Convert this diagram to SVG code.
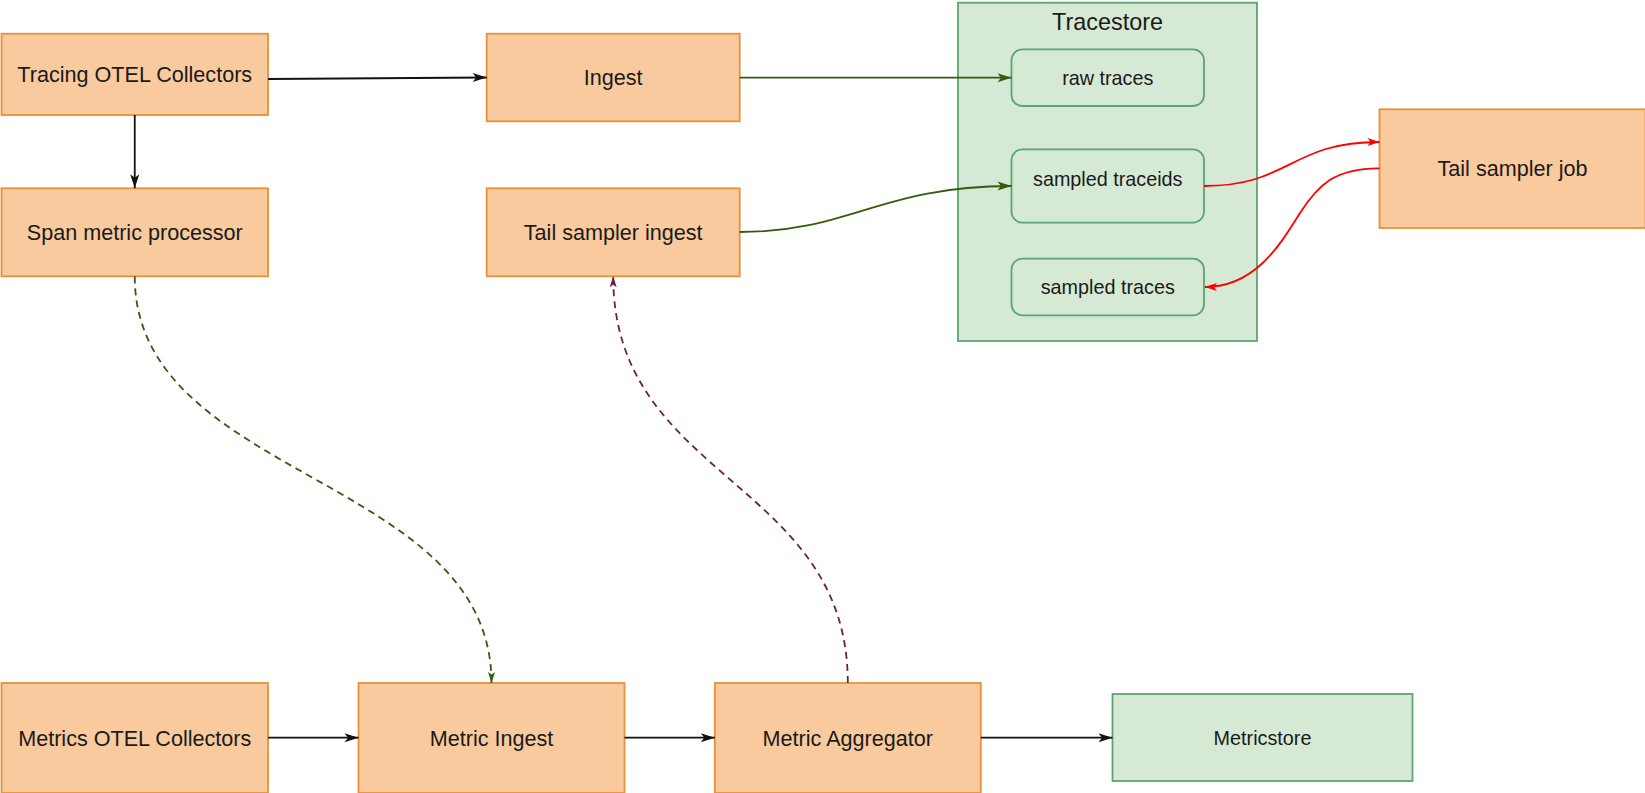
<svg xmlns="http://www.w3.org/2000/svg" width="1645" height="793" viewBox="0 0 1645 793">
<style>
.o{fill:#F8CA9D;stroke:#E8913A;stroke-width:1.8}
.g{fill:#D6E9D4;stroke:#5BA575;stroke-width:1.8}
.t{font-family:"Liberation Sans",Arial,sans-serif;fill:#1a1a1a;text-anchor:middle}
.to{font-size:21.6px}
.tg{font-size:19.8px}
.e{fill:none;stroke-width:1.8}
</style>
<defs>
<marker id="ab" markerUnits="userSpaceOnUse" markerWidth="14" markerHeight="9" refX="14" refY="4.5" orient="auto" overflow="visible"><path d="M0,0 L14,4.5 L0,9 L3.5,4.5 z" fill="#111"/></marker>
<marker id="ag" markerUnits="userSpaceOnUse" markerWidth="14" markerHeight="9" refX="14" refY="4.5" orient="auto" overflow="visible"><path d="M0,0 L14,4.5 L0,9 L3.5,4.5 z" fill="#335C0F"/></marker>
<marker id="ar" markerUnits="userSpaceOnUse" markerWidth="12" markerHeight="8" refX="12" refY="4" orient="auto" overflow="visible"><path d="M0,0 L12,4 L0,8 L3,4 z" fill="#FF0000"/></marker>
<marker id="adg" markerUnits="userSpaceOnUse" markerWidth="11" markerHeight="7" refX="11" refY="3.5" orient="auto" overflow="visible"><path d="M0,0 L11,3.5 L0,7 L2.5,3.5 z" fill="#335C0F"/></marker>
<marker id="adp" markerUnits="userSpaceOnUse" markerWidth="11" markerHeight="7" refX="11" refY="3.5" orient="auto" overflow="visible"><path d="M0,0 L11,3.5 L0,7 L2.5,3.5 z" fill="#6B1F4D"/></marker>
</defs>
<rect width="1645" height="793" fill="#fff"/>
<g id="tracestore">
<rect class="g" x="958" y="2.7" width="299" height="338.3"/>
<text class="t" x="1107.5" y="30" font-size="23.4">Tracestore</text>
</g>
<g id="raw-traces">
<rect class="g" x="1011.5" y="49.3" width="192.5" height="56.7" rx="11"/>
<text class="t tg" x="1107.75" y="84.6">raw traces</text>
</g>
<g id="sampled-traceids">
<rect class="g" x="1011.5" y="149.3" width="192.5" height="73.4" rx="11"/>
<text class="t tg" x="1107.75" y="185.5">sampled traceids</text>
</g>
<g id="sampled-traces">
<rect class="g" x="1011.5" y="258.7" width="192.5" height="56.6" rx="11"/>
<text class="t tg" x="1107.75" y="294">sampled traces</text>
</g>
<g id="tracing-otel">
<rect class="o" x="1.5" y="33.7" width="266.5" height="81.3"/>
<text class="t to" x="134.75" y="82">Tracing OTEL Collectors</text>
</g>
<g id="ingest">
<rect class="o" x="486.7" y="33.7" width="253" height="87.6"/>
<text class="t to" x="613.2" y="85">Ingest</text>
</g>
<g id="span-metric">
<rect class="o" x="1.5" y="188.3" width="266.5" height="88"/>
<text class="t to" x="134.75" y="240">Span metric processor</text>
</g>
<g id="tail-ingest">
<rect class="o" x="486.7" y="188.3" width="253" height="88"/>
<text class="t to" x="613.2" y="240">Tail sampler ingest</text>
</g>
<g id="tail-job">
<rect class="o" x="1379.5" y="109.3" width="266" height="118.7"/>
<text class="t to" x="1512.5" y="176">Tail sampler job</text>
</g>
<g id="metrics-otel">
<rect class="o" x="1.5" y="683" width="266.5" height="110"/>
<text class="t to" x="134.75" y="746">Metrics OTEL Collectors</text>
</g>
<g id="metric-ingest">
<rect class="o" x="358.5" y="683" width="266" height="110"/>
<text class="t to" x="491.5" y="746">Metric Ingest</text>
</g>
<g id="metric-aggregator">
<rect class="o" x="714.8" y="683" width="266" height="110"/>
<text class="t to" x="847.8" y="746">Metric Aggregator</text>
</g>
<g id="metricstore">
<rect class="g" x="1112.5" y="694" width="300" height="87"/>
<text class="t tg" x="1262.5" y="744.5">Metricstore</text>
</g>
<g id="connectors">
<path class="e" stroke="#111" d="M268 79 L486.7 77.5" marker-end="url(#ab)"/>
<path class="e" stroke="#111" d="M134.75 115 L134.75 188.3" marker-end="url(#ab)"/>
<path class="e" stroke="#335C0F" d="M739.7 77.7 L1011.5 77.7" marker-end="url(#ag)"/>
<path class="e" stroke="#335C0F" d="M739.7 232 C850 232 880 186 1011.5 186" marker-end="url(#ag)"/>
<path class="e" stroke="#FF0000" d="M1204 186 C1290 186 1290 142 1379.5 142" marker-end="url(#ar)"/>
<path class="e" stroke="#FF0000" d="M1379.5 168.3 C1335 168 1318 185 1300 213 C1280 245 1255 287 1205 287" marker-end="url(#ar)"/>
<path class="e" stroke="#335C0F" stroke-dasharray="7 5" d="M134.75 276.3 C134.75 480 491.5 475 491.5 683" marker-end="url(#adg)"/>
<path class="e" stroke="#6B1F4D" stroke-dasharray="7 5" d="M847.8 683 C847.8 480 613.2 480 613.2 276.3" marker-end="url(#adp)"/>
<path class="e" stroke="#111" d="M268 737.7 L358.5 737.7" marker-end="url(#ab)"/>
<path class="e" stroke="#111" d="M624.5 737.7 L714.8 737.7" marker-end="url(#ab)"/>
<path class="e" stroke="#111" d="M980.8 737.7 L1112.5 737.7" marker-end="url(#ab)"/>
</g>
</svg>
